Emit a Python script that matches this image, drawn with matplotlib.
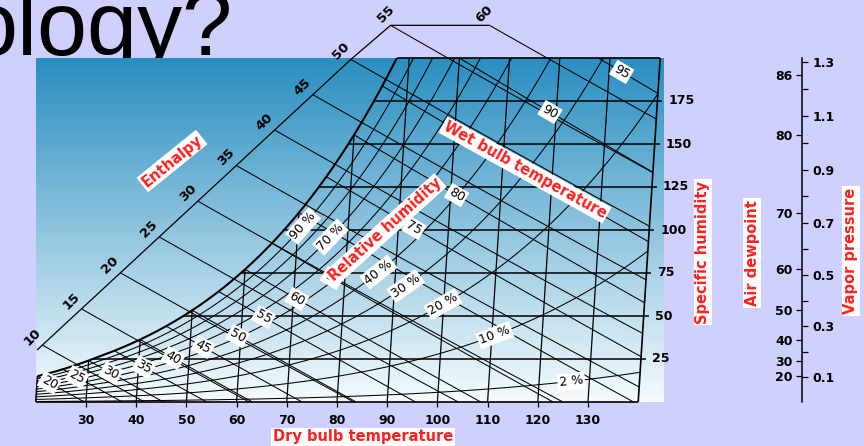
import numpy as np
import matplotlib
matplotlib.use("Agg")
import matplotlib.pyplot as plt

FIG_W, FIG_H = 864, 446
P_ATM = 29.921      # inHg
GR = 7000.0         # grains per lb
SKEW = 0.0219       # dry bulb lines lean right with humidity (F per grain)

# chart values
dry_bulb = [30, 40, 50, 60, 70, 80, 90, 100, 110, 120, 130]
spec_hum = [25, 50, 75, 100, 125, 150, 175]
rh_levels = [2, 10, 20, 30, 40, 50, 60, 70, 80, 90]
rh_labels = [90, 70, 40, 30, 20, 10, 2]
wet_bulb = [20, 25, 30, 35, 40, 45, 50, 55, 60, 65, 70, 75, 80, 85, 90, 95]
wb_labels = [20, 25, 30, 35, 40, 45, 50, 55, 60, 65, 75, 80, 90, 95]
enthalpy = [10, 15, 20, 25, 30, 35, 40, 45, 50, 55, 60]
dewpoint = [20, 30, 40, 50, 60, 70, 80, 86]
vap_major = [0.1, 0.3, 0.5, 0.7, 0.9, 1.1, 1.3]
vap_minor = [0.2, 0.4, 0.6, 0.8, 1.0, 1.2]

# label placement (dry bulb for RH labels, grains for wet bulb labels)
rh_label_t = [71.0, 76.6, 86.6, 92.2, 99.9, 110.6, 126.4]
wb_label_w = [11.2, 14.5, 16.9, 20.3, 25.6, 32, 38.4, 49.4, 59.9, 72.1,
              101.2, 120.3, 168.6, 191.9]
SCALE_A = (20.24, 30.2)   # enthalpy scale line ends (chart coords)
SCALE_B = (90.1, 219.0)

RED = "#FF1F1F"
BG = "#D0D0FF"


def pws(t_f):
    tc = (np.asarray(t_f, float) - 32) / 1.8
    water = 6.1094 * np.exp(17.625 * tc / (tc + 243.04))
    ice = 6.1115 * np.exp(22.452 * tc / (272.55 + tc))
    return np.where(tc < 0, ice, water) / 33.8639


def w_from_pv(pv):
    pv = np.asarray(pv, float)
    return GR * 0.622 * pv / (P_ATM - pv)


def w_sat(t):
    return w_from_pv(pws(t))


def w_rh(t, rh):
    return w_from_pv(rh / 100.0 * pws(t))


def w_wetbulb(t, twb):
    ws = w_sat(twb) / GR
    t = np.asarray(t, float)
    return GR * ((1093 - 0.556 * twb) * ws - 0.240 * (t - twb)) / (1093 + 0.444 * t - twb)


def w_enth(t, h):
    t = np.asarray(t, float)
    return GR * (h - 0.240 * t) / (1061 + 0.444 * t)


def sx(t, w):
    return np.asarray(t, float) + SKEW * np.asarray(w, float)


def px_box(l, t, r, b):
    return [l / FIG_W, 1 - b / FIG_H, (r - l) / FIG_W, (b - t) / FIG_H]


def fpos(x, y):
    return x / FIG_W, 1 - y / FIG_H


def screen_angle(ax, x0, y0, x1, y1):
    p = ax.transData.transform([(x0, y0), (x1, y1)])
    d = p[1] - p[0]
    return np.degrees(np.arctan2(d[1], d[0]))


tgrid = np.linspace(0, 110, 4000)
wgrid = w_sat(tgrid)


def dew_t(w):
    return np.interp(w, wgrid, tgrid)


t_top = dew_t(200.0)

plt.rcParams["font.family"] = "DejaVu Sans"
fig = plt.figure(figsize=(FIG_W / 100, FIG_H / 100), dpi=100, facecolor=BG)

fig.text(232 / FIG_W, 1 - 55 / FIG_H, "ology?", ha="right", va="baseline",
         fontsize=64.8, family="Liberation Sans", color="black", zorder=-5)

ax = fig.add_axes(px_box(35.8, 58, 35.8 + 125 * 5.02, 402))
ax.set_xlim(20, 145)
ax.set_ylim(0, 200)
for s in ax.spines.values():
    s.set_visible(False)
ax.set_facecolor("none")

# background gradient
top_c = np.array([41, 142, 192]) / 255
bot_c = np.array([246, 251, 254]) / 255
fr = np.linspace(0, 1, 256)[:, None]
grad = (top_c * (1 - fr) + bot_c * fr)[:, None, :]
ax.imshow(grad, extent=(20, 145, 0, 200), aspect="auto", origin="upper",
          zorder=0, interpolation="bilinear")

LK = dict(color="black", solid_capstyle="butt")

# saturation curve
ts = np.linspace(20, t_top, 300)
ax.plot(sx(ts, w_sat(ts)), w_sat(ts), lw=1.5, zorder=4, **LK)

# frame
w20 = float(w_sat(20))
frame = [((20, 0), (140, 0)), ((20, 0), (20, w20)), ((140, 0), (140, 200)),
         ((t_top, 200), (140, 200))]
for (t0, w0), (t1, w1) in frame:
    ax.plot([sx(t0, w0), sx(t1, w1)], [w0, w1], lw=1.2, clip_on=False, zorder=4, **LK)

# dry bulb lines
for t in dry_bulb:
    wt = min(float(w_sat(t)), 200.0)
    ax.plot([sx(t, 0), sx(t, wt)], [0, wt], lw=0.9, zorder=3, **LK)

# specific humidity lines
for w in spec_hum:
    td = dew_t(w)
    ax.plot([sx(td, w), sx(140, w) + 1.0], [w, w], lw=1.1, clip_on=False, zorder=3, **LK)
    ax.text(sx(140, w) + 2.2, w, str(w), ha="left", va="center", fontsize=9,
            fontweight="bold", clip_on=False)

# relative humidity curves
tr = np.linspace(20, 140, 500)
for rh in rh_levels:
    ax.plot(sx(tr, w_rh(tr, rh)), w_rh(tr, rh), lw=0.75, zorder=2, **LK)

# wet bulb lines
for twb in wet_bulb:
    ws = float(w_sat(twb)) / GR
    t_end = min(twb + (1093 - 0.556 * twb) * ws / 0.240, 140)
    tw = np.linspace(twb, t_end, 100)
    ax.plot(sx(tw, w_wetbulb(tw, twb)), w_wetbulb(tw, twb), lw=0.75, zorder=2, **LK)


# enthalpy lines from the scale
def enthalpy_anchor(h):
    tt = np.linspace(-40, 140, 6000)
    ww = w_enth(tt, h)
    xx = sx(tt, ww)
    axx, ayy = SCALE_A
    bxx, byy = SCALE_B
    cr = (bxx - axx) * (ww - ayy) - (byy - ayy) * (xx - axx)
    i = np.where(np.diff(np.sign(cr)) != 0)[0][0]
    f = cr[i] / (cr[i] - cr[i + 1])
    t_s = tt[i] + f * (tt[i + 1] - tt[i])
    diag = True
    if w_enth(t_s, h) > byy + 0.5:
        t_s = np.interp(byy, ww[::-1], tt[::-1])
        diag = False
    return t_s, diag


scale_pts = []
for h in enthalpy:
    t_s, diag = enthalpy_anchor(h)
    t_end = min(h / 0.240, 140)
    te = np.linspace(t_s, t_end, 100)
    ax.plot(sx(te, w_enth(te, h)), w_enth(te, h), lw=0.75, clip_on=False, zorder=2, **LK)
    x0, y0 = float(sx(t_s, w_enth(t_s, h))), float(w_enth(t_s, h))
    scale_pts.append((x0, y0))
    off = (-10, 8) if diag else (-5, 11)
    ax.annotate(str(h), (x0, y0), xytext=off, textcoords="offset pixels",
                ha="center", va="center", rotation=45, fontsize=9.5,
                fontweight="bold", annotation_clip=False)

sxs = [SCALE_A[0]] + [p[0] for p in scale_pts]
sys_ = [SCALE_A[1]] + [p[1] for p in scale_pts]
ax.plot(sxs, sys_, lw=0.9, clip_on=False, zorder=2, **LK)

box = dict(boxstyle="square,pad=0.15", facecolor="white", edgecolor="none")

# wet bulb labels
for lab, wl in zip(wb_labels, wb_label_w):
    tw = np.linspace(lab, 160, 3000)
    ww = w_wetbulb(tw, lab)
    tl = np.interp(wl, ww[::-1], tw[::-1])
    ang = screen_angle(ax, sx(tl - 1, w_wetbulb(tl - 1, lab)), w_wetbulb(tl - 1, lab),
                       sx(tl + 1, w_wetbulb(tl + 1, lab)), w_wetbulb(tl + 1, lab))
    ax.text(sx(tl, wl), wl, str(lab), ha="center", va="center", rotation=ang,
            rotation_mode="anchor", fontsize=9, bbox=box, zorder=6)

# relative humidity labels
for lab, tl in zip(rh_labels, rh_label_t):
    wl = float(w_rh(tl, lab))
    ang = screen_angle(ax, sx(tl - 1, w_rh(tl - 1, lab)), w_rh(tl - 1, lab),
                       sx(tl + 1, w_rh(tl + 1, lab)), w_rh(tl + 1, lab))
    ax.text(sx(tl, wl), wl, f"{lab} %", ha="center", va="center", rotation=ang,
            rotation_mode="anchor", fontsize=9, bbox=box, zorder=6)

ax.set_yticks([])
ax.set_xticks(dry_bulb)
ax.set_xticklabels([str(t) for t in dry_bulb], fontweight="bold", fontsize=9)
ax.tick_params(axis="x", length=3.5, width=0.9, pad=5, color="black")

# dewpoint / vapor pressure scale
axd = fig.add_axes(px_box(802, 58, 802.4, 402))
axd.set_ylim(0, 200)
axd.set_xticks([])
for k in ("top", "right", "bottom"):
    axd.spines[k].set_visible(False)
axd.spines["left"].set_linewidth(1.1)
axd.set_facecolor("none")
axd.set_yticks(w_sat(dewpoint))
axd.set_yticklabels([str(d) for d in dewpoint], fontweight="bold", fontsize=9)
axd.tick_params(axis="y", length=4.5, width=0.9, pad=2)

axv = axd.twinx()
axv.set_ylim(0, 200)
for s in axv.spines.values():
    s.set_visible(False)
axv.set_yticks(w_from_pv(vap_major))
axv.set_yticklabels([f"{v:.1f}" for v in vap_major], fontweight="bold", fontsize=9)
axv.set_yticks(w_from_pv(vap_minor), minor=True)
axv.tick_params(axis="y", which="both", length=4.5, width=0.9, pad=3, right=True, left=False)

# red axis titles
red = dict(color=RED, fontsize=10.5, fontweight="bold", ha="center", va="center",
           bbox=dict(boxstyle="square,pad=0.12", facecolor="white", edgecolor="none"),
           zorder=10)
fig.text(*fpos(172, 161), "Enthalpy", rotation=39, **red)
fig.text(*fpos(385, 230), "Relative humidity", rotation=42, **red)
fig.text(*fpos(525, 170), "Wet bulb temperature", rotation=-29, **red)
fig.text(*fpos(363, 437), "Dry bulb temperature", **red)
fig.text(*fpos(703, 252), "Specific humidity", rotation=90, **red)
fig.text(*fpos(752, 253), "Air dewpoint", rotation=90, **red)
fig.text(*fpos(851, 251), "Vapor pressure", rotation=90, **red)

fig.savefig("out.png", dpi=100, facecolor=fig.get_facecolor())
